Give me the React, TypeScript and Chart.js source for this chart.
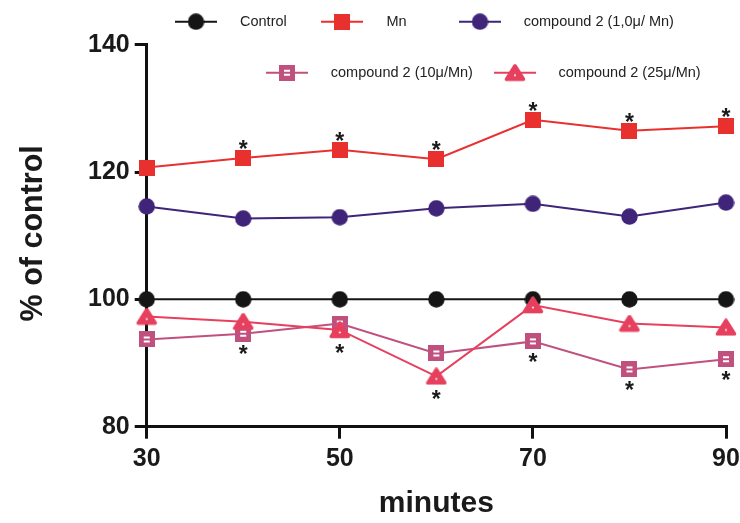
import React, { useEffect, useRef } from "react";
import { Chart, registerables } from "chart.js";

Chart.register(...registerables);

// ---- data ----
const minutes = [30, 40, 50, 60, 70, 80, 90];
const controlValues = [100, 100, 100, 100, 100, 100, 100];
const mnValues = [120.7, 122.2, 123.5, 122.0, 128.2, 126.5, 127.2];
const c1Values = [114.6, 112.7, 112.9, 114.3, 115.0, 113.0, 115.2];
const c10Values = [93.7, 94.6, 96.2, 91.5, 93.4, 89.0, 90.6];
const c25Values = [97.3, 96.5, 95.2, 87.9, 99.1, 96.2, 95.6];
const mnStars = [false, true, true, true, true, true, true];
const c10Stars = [false, true, false, false, true, true, true];
const c25Stars = [false, false, true, true, false, false, false];
const seriesLabels = [
  "Control",
  "Mn",
  "compound 2 (1,0\u03bc/ Mn)",
  "compound 2 (10\u03bc/Mn)",
  "compound 2 (25\u03bc/Mn)",
];
const xTicks = [30, 50, 70, 90];
const yTicks = [80, 100, 120, 140];
const xTitle = "minutes";
const yTitle = "% of control";

// ---- styles ----
const FONT = "'Liberation Sans', Arial, sans-serif";
const COLORS = ["#151515", "#e8312f", "#3f2479", "#c0517f", "#e6405e"];
const KINDS = ["circle", "square", "circle", "openSquare", "triangle"];

function makeMarker(kind: string, color: string): HTMLCanvasElement {
  const c = document.createElement("canvas");
  let w = 17, h = 17;
  if (kind === "square" || kind === "openSquare") { w = 16; h = 16; }
  if (kind === "triangle") { w = 22; h = 18; }
  c.width = w; c.height = h;
  const ctx = c.getContext("2d")!;
  ctx.fillStyle = color;
  ctx.strokeStyle = color;
  if (kind === "circle") {
    ctx.beginPath();
    ctx.arc(w / 2, h / 2, 8.2, 0, Math.PI * 2);
    ctx.fill();
  } else if (kind === "square") {
    ctx.fillRect(0, 0, w, h);
  } else if (kind === "openSquare") {
    ctx.fillRect(0, 0, w, h);
    ctx.fillStyle = "#ffffff";
    ctx.fillRect(5, 5, 6, 2);
    ctx.fillRect(5, 9, 6, 2);
  } else if (kind === "triangle") {
    ctx.lineJoin = "round";
    ctx.lineWidth = 3.5;
    ctx.beginPath();
    ctx.moveTo(2.5, 15.5);
    ctx.lineTo(19.5, 15.5);
    ctx.lineTo(11, 2);
    ctx.closePath();
    ctx.fill();
    ctx.stroke();
    ctx.fillStyle = "#ffffff";
    ctx.beginPath();
    ctx.arc(11, 11.5, 1, 0, Math.PI * 2);
    ctx.fill();
  }
  return c;
}

export default function App() {
  const ref = useRef<HTMLCanvasElement | null>(null);

  useEffect(() => {
    if (!ref.current) return;
    const markers = KINDS.map((k, i) => makeMarker(k, COLORS[i]));
    const seriesValues = [controlValues, mnValues, c1Values, c10Values, c25Values];
    const orders = [4, 3, 2, 1, 0];

    const datasets = seriesValues.map((vals, i) => ({
      label: seriesLabels[i],
      data: minutes.map((m, j) => ({ x: m, y: vals[j] })),
      borderColor: COLORS[i],
      backgroundColor: COLORS[i],
      borderWidth: 2,
      pointStyle: markers[i] as any,
      pointRadius: 8,
      pointHoverRadius: 8,
      clip: false as any,
      order: orders[i],
      tension: 0,
    }));

    const starSpec = [
      { ds: 1, flags: mnStars, dir: -1, off: 13.5 },
      { ds: 3, flags: c10Stars, dir: 1, off: 16 },
      { ds: 4, flags: c25Stars, dir: 1, off: 18.5 },
    ];

    const starsPlugin = {
      id: "stars",
      afterDatasetsDraw(chart: any) {
        const ctx = chart.ctx;
        ctx.save();
        ctx.fillStyle = "#1a1a1a";
        ctx.font = `bold 23px ${FONT}`;
        ctx.textAlign = "center";
        ctx.textBaseline = "alphabetic";
        const m = ctx.measureText("*");
        const asc = m.actualBoundingBoxAscent || 14;
        const desc = m.actualBoundingBoxDescent || -7;
        starSpec.forEach((s) => {
          const meta = chart.getDatasetMeta(s.ds);
          s.flags.forEach((f, j) => {
            if (!f) return;
            const p = meta.data[j];
            const cy = p.y + s.dir * s.off;
            ctx.fillText("*", p.x, cy + (asc - desc) / 2);
          });
        });
        ctx.restore();
      },
    };

    const legendItems = [
      { i: 0, x: 196, y: 21.7, tx: 240 },
      { i: 1, x: 342, y: 21.7, tx: 386.4 },
      { i: 2, x: 480, y: 21.7, tx: 523.7 },
      { i: 3, x: 287, y: 72.7, tx: 330.8 },
      { i: 4, x: 515, y: 72.7, tx: 558.5 },
    ];

    const decorPlugin = {
      id: "decor",
      afterDraw(chart: any) {
        const ctx = chart.ctx;
        const area = chart.chartArea;
        ctx.save();
        // legend
        legendItems.forEach((it) => {
          ctx.strokeStyle = COLORS[it.i];
          ctx.lineWidth = 2;
          ctx.beginPath();
          ctx.moveTo(it.x - 21, it.y);
          ctx.lineTo(it.x + 21, it.y);
          ctx.stroke();
          const mk = markers[it.i];
          ctx.drawImage(mk, it.x - mk.width / 2, it.y - mk.height / 2);
          ctx.fillStyle = "#222";
          ctx.font = `14.5px ${FONT}`;
          ctx.textAlign = "left";
          ctx.textBaseline = "middle";
          ctx.fillText(seriesLabels[it.i], it.tx, it.y);
        });
        // axis titles
        ctx.fillStyle = "#1a1a1a";
        ctx.font = `bold 30px ${FONT}`;
        ctx.textAlign = "center";
        ctx.textBaseline = "alphabetic";
        ctx.fillText(xTitle, (area.left + area.right) / 2, 511.7);
        ctx.save();
        ctx.translate(42, 233.3);
        ctx.rotate(-Math.PI / 2);
        ctx.font = `bold 30.5px ${FONT}`;
        ctx.fillText(yTitle, 0, 0);
        ctx.restore();
        ctx.restore();
      },
    };

    const chart = new Chart(ref.current, {
      type: "line",
      data: { datasets: datasets as any },
      options: {
        animation: false,
        responsive: false,
        devicePixelRatio: 1,
        layout: { padding: { left: 0, right: 14, top: 44.7, bottom: 0 } },
        plugins: { legend: { display: false }, tooltip: { enabled: false } },
        scales: {
          x: {
            type: "linear",
            min: 30,
            max: 90,
            afterBuildTicks: (s: any) => {
              s.ticks = xTicks.map((v) => ({ value: v }));
            },
            afterFit: (s: any) => {
              s.height = 96.3;
              s.paddingLeft = 0;
              s.paddingRight = 0;
            },
            ticks: {
              font: { family: FONT, weight: "bold", size: 25 },
              color: "#1a1a1a",
              padding: 5,
              maxRotation: 0,
            },
            grid: {
              display: true,
              drawOnChartArea: false,
              drawTicks: true,
              tickLength: 12,
              color: "#111",
              lineWidth: 3,
            },
            border: { display: true, color: "#111", width: 3 },
          },
          y: {
            type: "linear",
            min: 80,
            max: 140,
            afterBuildTicks: (s: any) => {
              s.ticks = yTicks.map((v) => ({ value: v }));
            },
            afterFit: (s: any) => {
              s.width = 146.7;
              s.paddingTop = 0;
              s.paddingBottom = 0;
            },
            ticks: {
              font: { family: FONT, weight: "bold", size: 25 },
              color: "#1a1a1a",
              padding: 5,
            },
            grid: {
              display: true,
              drawOnChartArea: false,
              drawTicks: true,
              tickLength: 12,
              color: "#111",
              lineWidth: 3,
            },
            border: { display: true, color: "#111", width: 3 },
          },
        },
      },
      plugins: [starsPlugin, decorPlugin],
    });
    return () => chart.destroy();
  }, []);

  return (
    <div style={{ position: "absolute", left: 0, top: 0, width: 740, height: 523 }}>
      <canvas ref={ref} width={740} height={523} style={{ display: "block", width: 740, height: 523 }} />
    </div>
  );
}
